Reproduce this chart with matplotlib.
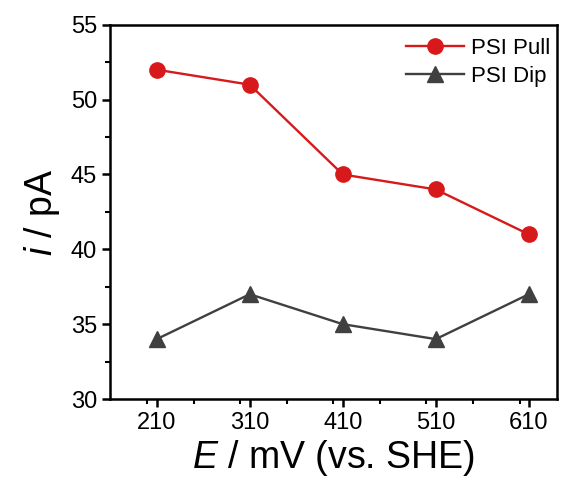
import matplotlib
matplotlib.use("Agg")
import matplotlib.pyplot as plt
from matplotlib.ticker import MultipleLocator

plt.rcParams['font.family'] = ['Liberation Sans', 'DejaVu Sans']
plt.rcParams['mathtext.fontset'] = 'custom'
plt.rcParams['mathtext.it'] = 'Liberation Sans:italic'
plt.rcParams['mathtext.rm'] = 'Liberation Sans'

# data
potential = [210, 310, 410, 510, 610]
psi_pull = [52, 51, 45, 44, 41]
psi_dip = [34, 37, 35, 34, 37]

fig = plt.figure(figsize=(5.71, 4.86), dpi=100)
ax = fig.add_axes([0.193, 0.179, 0.782, 0.770])

ax.plot(potential, psi_pull, color="#D7191C", marker="o", markersize=11,
        linewidth=1.7, label="PSI Pull")
ax.plot(potential, psi_dip, color="#404040", marker="^", markersize=11,
        linewidth=1.7, label="PSI Dip")

ax.set_xlim(160, 640)
ax.set_ylim(30, 55)
ax.set_xticks(potential)
ax.xaxis.set_minor_locator(MultipleLocator(50))
ax.yaxis.set_major_locator(MultipleLocator(5))
ax.yaxis.set_minor_locator(MultipleLocator(2.5))

for s in ax.spines.values():
    s.set_linewidth(1.8)
ax.tick_params(which="major", direction="out", length=6, width=1.8,
               labelsize=17, top=False, right=False)
ax.tick_params(which="minor", direction="out", length=3.5, width=1.5,
               top=False, right=False)

ax.set_xlabel("$\\mathit{E}$ / mV (vs. SHE)", fontsize=27, labelpad=3)
ax.set_ylabel("$\\mathit{i}$ / pA", fontsize=27, labelpad=6)

ax.legend(loc="upper right", bbox_to_anchor=(1.015, 1.0), frameon=False,
          fontsize=16, handlelength=2.6, handletextpad=0.3,
          labelspacing=0.3, borderaxespad=0.2)

fig.savefig("out.png", dpi=100)
